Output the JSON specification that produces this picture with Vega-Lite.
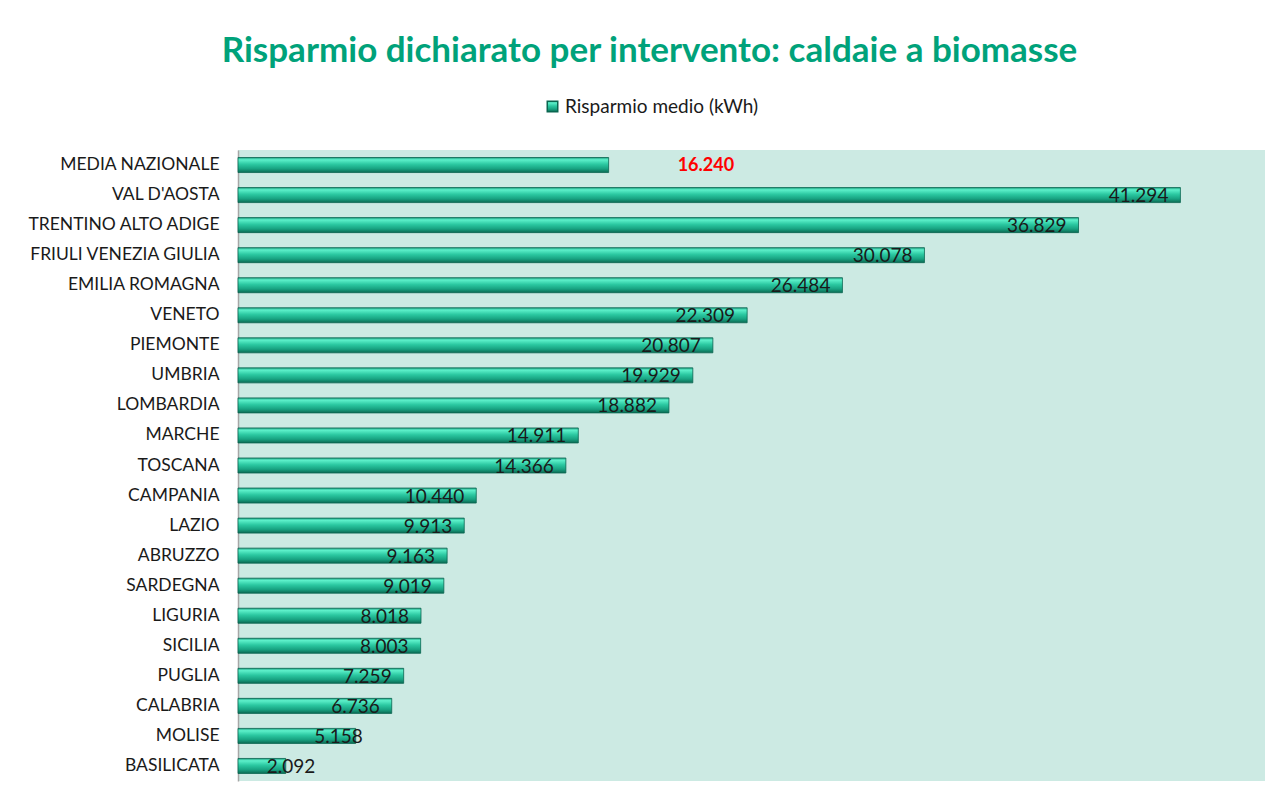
{
  "$schema": "https://vega.github.io/schema/vega-lite/v6.json",
  "autosize": "none",
  "width": 1027,
  "height": 631,
  "padding": {"left": 238, "top": 150, "right": 9, "bottom": 15},
  "background": "white",
  "config": {
    "font": "Lato",
    "view": {"fill": "#CCEAE3", "stroke": null},
    "locale": {"number": {"decimal": ",", "thousands": ".", "grouping": [3], "currency": ["€", ""]}}
  },
  "title": {
    "text": "Risparmio dichiarato per intervento: caldaie a biomasse",
    "font": "Lato",
    "fontSize": 35,
    "fontWeight": "bold",
    "color": "#00A27A",
    "anchor": "middle",
    "dx": -102,
    "offset": 28
  },
  "data": {
    "values": [
      {"regione": "MEDIA NAZIONALE", "risparmio": 16240, "serie": "Risparmio medio (kWh)"},
      {"regione": "VAL D'AOSTA", "risparmio": 41294, "serie": "Risparmio medio (kWh)"},
      {"regione": "TRENTINO ALTO ADIGE", "risparmio": 36829, "serie": "Risparmio medio (kWh)"},
      {"regione": "FRIULI VENEZIA GIULIA", "risparmio": 30078, "serie": "Risparmio medio (kWh)"},
      {"regione": "EMILIA ROMAGNA", "risparmio": 26484, "serie": "Risparmio medio (kWh)"},
      {"regione": "VENETO", "risparmio": 22309, "serie": "Risparmio medio (kWh)"},
      {"regione": "PIEMONTE", "risparmio": 20807, "serie": "Risparmio medio (kWh)"},
      {"regione": "UMBRIA", "risparmio": 19929, "serie": "Risparmio medio (kWh)"},
      {"regione": "LOMBARDIA", "risparmio": 18882, "serie": "Risparmio medio (kWh)"},
      {"regione": "MARCHE", "risparmio": 14911, "serie": "Risparmio medio (kWh)"},
      {"regione": "TOSCANA", "risparmio": 14366, "serie": "Risparmio medio (kWh)"},
      {"regione": "CAMPANIA", "risparmio": 10440, "serie": "Risparmio medio (kWh)"},
      {"regione": "LAZIO", "risparmio": 9913, "serie": "Risparmio medio (kWh)"},
      {"regione": "ABRUZZO", "risparmio": 9163, "serie": "Risparmio medio (kWh)"},
      {"regione": "SARDEGNA", "risparmio": 9019, "serie": "Risparmio medio (kWh)"},
      {"regione": "LIGURIA", "risparmio": 8018, "serie": "Risparmio medio (kWh)"},
      {"regione": "SICILIA", "risparmio": 8003, "serie": "Risparmio medio (kWh)"},
      {"regione": "PUGLIA", "risparmio": 7259, "serie": "Risparmio medio (kWh)"},
      {"regione": "CALABRIA", "risparmio": 6736, "serie": "Risparmio medio (kWh)"},
      {"regione": "MOLISE", "risparmio": 5158, "serie": "Risparmio medio (kWh)"},
      {"regione": "BASILICATA", "risparmio": 2092, "serie": "Risparmio medio (kWh)"}
    ]
  },
  "encoding": {
    "y": {
      "field": "regione",
      "type": "nominal",
      "sort": null,
      "scale": {"paddingInner": 0.5, "paddingOuter": 0.25},
      "axis": {
        "title": null,
        "ticks": false,
        "domain": true,
        "domainColor": "#A6A6A6",
        "domainWidth": 1.5,
        "labelFont": "Lato",
        "labelFontSize": 17.5,
        "labelColor": "#1a1a1a",
        "labelPadding": 19,
        "labelLimit": 300
      }
    },
    "x": {
      "field": "risparmio",
      "type": "quantitative",
      "scale": {"domain": [0, 45000], "nice": false},
      "axis": null
    }
  },
  "layer": [
    {
      "mark": {
        "type": "bar",
        "fill": {
          "gradient": "linear",
          "x1": 0, "y1": 0, "x2": 0, "y2": 1,
          "stops": [
            {"offset": 0, "color": "#1f9f80"},
            {"offset": 0.15, "color": "#5df0ca"},
            {"offset": 0.45, "color": "#2bc8a1"},
            {"offset": 0.75, "color": "#18a281"},
            {"offset": 1, "color": "#0b6b53"}
          ]
        },
        "strokeWidth": 0.8
      },
      "encoding": {
        "stroke": {
          "field": "serie",
          "type": "nominal",
          "scale": {"range": ["#0a6650"]},
          "legend": {
            "title": null,
            "orient": "none",
            "legendX": 305,
            "legendY": -53,
            "symbolType": "square",
            "symbolSize": 110,
            "symbolFillColor": "#1aa886",
            "symbolStrokeColor": "#0a6650",
            "labelFont": "Lato",
            "labelFontSize": 19,
            "labelColor": "#1a1a1a",
            "labelOffset": 3,
            "labelLimit": 400
          }
        }
      }
    },
    {
      "transform": [{"filter": "datum.regione !== 'MEDIA NAZIONALE' && datum.risparmio >= 6000"}],
      "mark": {"type": "text", "align": "right", "baseline": "middle", "dx": -12, "dy": 1, "fontSize": 19, "font": "Lato", "color": "#1a1a1a"},
      "encoding": {"text": {"field": "risparmio", "type": "quantitative", "format": ",d"}}
    },
    {
      "transform": [{"filter": "datum.risparmio >= 3000 && datum.risparmio < 6000"}],
      "mark": {"type": "text", "align": "right", "baseline": "middle", "dx": 7, "dy": 1, "fontSize": 19, "font": "Lato", "color": "#1a1a1a"},
      "encoding": {"text": {"field": "risparmio", "type": "quantitative", "format": ",d"}}
    },
    {
      "transform": [{"filter": "datum.risparmio < 3000"}],
      "mark": {"type": "text", "align": "left", "baseline": "middle", "dx": -19, "dy": 1, "fontSize": 19, "font": "Lato", "color": "#1a1a1a"},
      "encoding": {"text": {"field": "risparmio", "type": "quantitative", "format": ",d"}}
    },
    {
      "transform": [{"filter": "datum.regione === 'MEDIA NAZIONALE'"}],
      "mark": {"type": "text", "align": "left", "baseline": "middle", "dx": 69, "dy": 1, "fontSize": 18, "fontWeight": "bold", "font": "Lato", "color": "#FF0000"},
      "encoding": {"text": {"field": "risparmio", "type": "quantitative", "format": ",d"}}
    }
  ]
}
